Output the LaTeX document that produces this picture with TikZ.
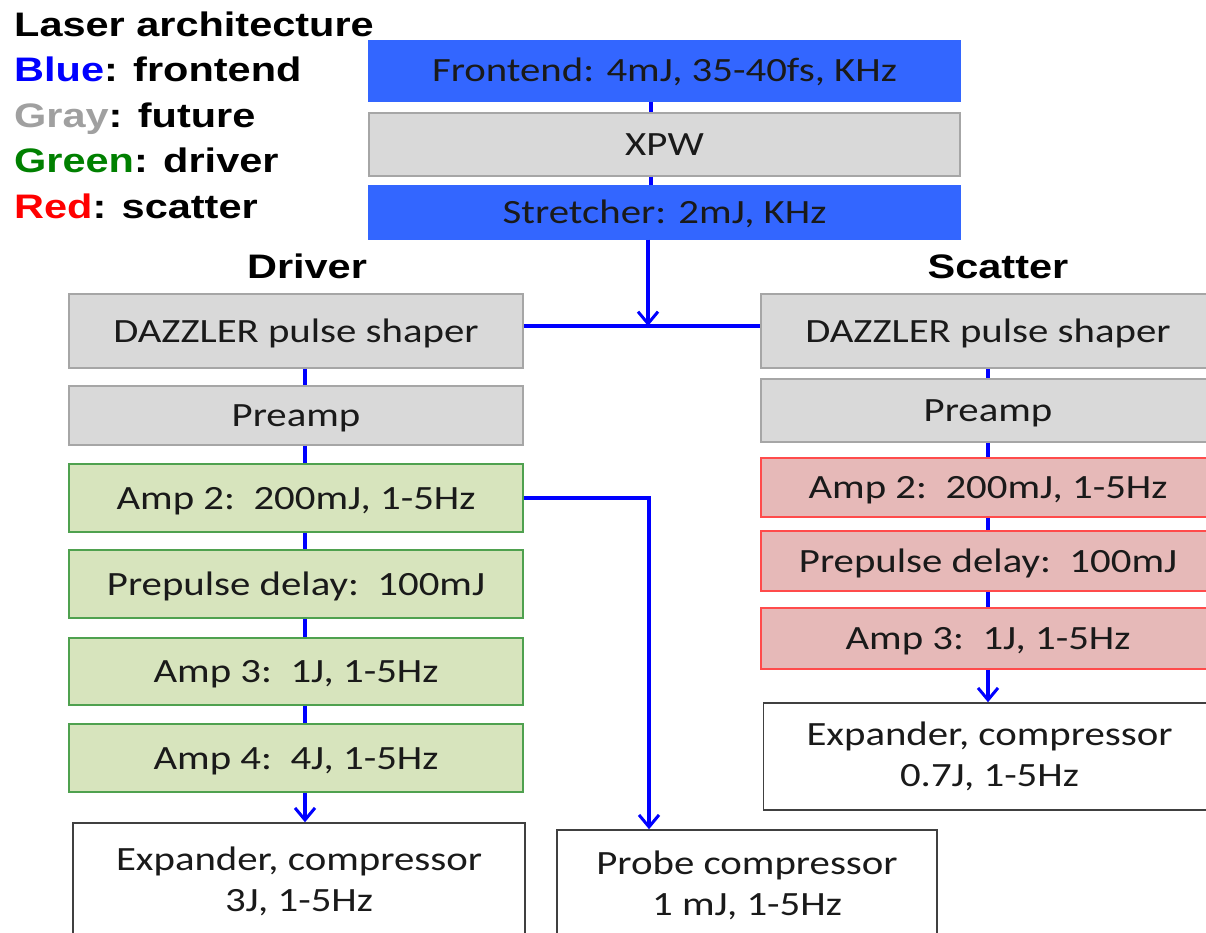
\documentclass[tikz,border=0pt]{standalone}
\usepackage{fontspec}
\setmainfont{Carlito}[FakeStretch=1.2]
\newfontfamily\legendfont{Liberation Sans}[FakeStretch=1.22]
\usetikzlibrary{arrows.meta}
\definecolor{fblue}{HTML}{3366FF}
\definecolor{fgray}{HTML}{D9D9D9}
\definecolor{fgrayline}{HTML}{A6A6A6}
\definecolor{fgreen}{HTML}{D7E4BD}
\definecolor{fgreenline}{HTML}{4FA14F}
\definecolor{fred}{HTML}{E6B9B8}
\definecolor{fredline}{HTML}{FF4B4B}
\definecolor{pblue}{HTML}{0000FF}
\definecolor{txt}{HTML}{1A1A1A}
\definecolor{lgray}{HTML}{A0A0A0}
\definecolor{lgreen}{HTML}{008000}
\definecolor{lred}{HTML}{FF0000}
\begin{document}
\begin{tikzpicture}[x=1pt,y=-1pt,
  box/.style={draw, line width=1.5pt, minimum width=454pt, inner sep=0pt,
    text height=22pt, text depth=0pt, font=\fontsize{34}{40}\selectfont, text=txt},
  bluebox/.style={box, fill=fblue, draw=fblue},
  graybox/.style={box, fill=fgray, draw=fgrayline},
  greenbox/.style={box, fill=fgreen, draw=fgreenline},
  redbox/.style={box, fill=fred, draw=fredline},
  whitebox/.style={draw=black!75, line width=1.5pt, fill=white, minimum width=452pt,
    inner sep=0pt, align=center, font=\fontsize{34}{41}\selectfont, text=txt},
  beam/.style={draw=pblue, line width=3.5pt},
  arr/.style={beam, -{Straight Barb[length=12pt,width=20pt,line width=3pt]}},
  legend/.style={anchor=base west, inner sep=0pt,
    font=\fontsize{34}{40}\legendfont\bfseries},
  heading/.style={anchor=base, inner sep=0pt,
    font=\fontsize{34}{40}\legendfont\bfseries}]
\useasboundingbox (0,0) rectangle (1206,933);
\clip (0,0) rectangle (1206,933);

% legend
\node[legend] (l1) at (14,37) {Laser architecture};
\node[legend] (l2) at (14,82) {\textcolor{pblue}{Blue}: frontend};
\node[legend] (l3) at (14,128) {\textcolor{lgray}{Gray}: future};
\node[legend] (l4) at (14,173) {\textcolor{lgreen}{Green}: driver};
\node[legend] (l5) at (14,219) {\textcolor{lred}{Red}: scatter};

% headings
\node[heading] (hdrv) at (307,278) {Driver};
\node[heading] (hsct) at (998,278) {Scatter};

% frontend
\node[bluebox, minimum width=591pt, minimum height=60pt] (front) at (664.5,71) {Frontend: 4mJ, 35-40fs, KHz};
\node[graybox, minimum width=591pt, minimum height=63pt] (xpw) at (664.5,144.5) {XPW};
\node[bluebox, minimum width=591pt, minimum height=53pt] (stretch) at (664.5,212.5) {Stretcher: 2mJ, KHz};

% driver column
\node[graybox, minimum height=74pt] (dazL) at (296,331) {DAZZLER pulse shaper};
\node[graybox, minimum height=59pt] (preL) at (296,415.5) {Preamp};
\node[greenbox, minimum height=68pt] (amp2L) at (296,498) {Amp 2:~~200mJ, 1-5Hz};
\node[greenbox, minimum height=68pt] (prepL) at (296,584) {Prepulse delay:~~100mJ};
\node[greenbox, minimum height=67pt] (amp3L) at (296,671.5) {Amp 3:~~1J, 1-5Hz};
\node[greenbox, minimum height=68pt] (amp4L) at (296,758) {Amp 4:~~4J, 1-5Hz};
\node[whitebox, minimum height=117pt] (expL) at (299,881.5) {Expander, compressor\\3J, 1-5Hz};
\node[whitebox, minimum width=380pt, minimum height=110pt] (probe) at (747,885) {Probe compressor\\1 mJ, 1-5Hz};

% scatter column
\node[graybox, minimum height=74pt] (dazR) at (988,331) {DAZZLER pulse shaper};
\node[graybox, minimum height=63pt] (preR) at (988,410.5) {Preamp};
\node[redbox, minimum height=59pt] (amp2R) at (988,487.5) {Amp 2:~~200mJ, 1-5Hz};
\node[redbox, minimum height=60pt] (prepR) at (988,561) {Prepulse delay:~~100mJ};
\node[redbox, minimum height=61pt] (amp3R) at (988,638.5) {Amp 3:~~1J, 1-5Hz};
\node[whitebox, minimum height=107pt] (expR) at (989.5,756.5) {Expander, compressor\\0.7J, 1-5Hz};

% beam coordinates
\coordinate (sx) at (651,0);
\coordinate (lx) at (305,0);
\coordinate (rx) at (988,0);
\coordinate (px) at (649,0);
\coordinate (junc) at (648,326);

% frontend beam
\draw[beam] (front.south -| sx) -- (xpw.north -| sx);
\draw[beam] (xpw.south -| sx) -- (stretch.north -| sx);
\draw[arr] (stretch.south -| junc) -- (junc);
\draw[beam] (dazL.east |- junc) -- (dazR.west |- junc);

% driver beam
\draw[beam] (dazL.south -| lx) -- (preL.north -| lx);
\draw[beam] (preL.south -| lx) -- (amp2L.north -| lx);
\draw[beam] (amp2L.south -| lx) -- (prepL.north -| lx);
\draw[beam] (prepL.south -| lx) -- (amp3L.north -| lx);
\draw[beam] (amp3L.south -| lx) -- (amp4L.north -| lx);
\draw[arr] (amp4L.south -| lx) -- (expL.north -| lx);
\draw[arr] (amp2L.east) -| (probe.north -| px);

% scatter beam
\draw[beam] (dazR.south -| rx) -- (preR.north -| rx);
\draw[beam] (preR.south -| rx) -- (amp2R.north -| rx);
\draw[beam] (amp2R.south -| rx) -- (prepR.north -| rx);
\draw[beam] (prepR.south -| rx) -- (amp3R.north -| rx);
\draw[arr] (amp3R.south -| rx) -- (expR.north -| rx);
\end{tikzpicture}
\end{document}
